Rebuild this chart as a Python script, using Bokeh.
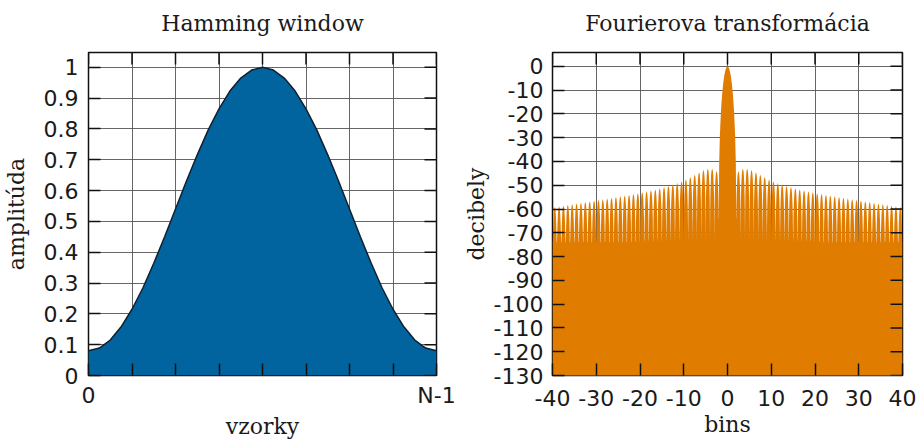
from bokeh.plotting import figure
from bokeh.layouts import row
from bokeh.models import Range1d, FixedTicker, CustomJSTickFormatter, LinearAxis
from bokeh.embed import file_html
from bokeh.resources import INLINE

# ---------------- data: Hamming window (samples 0 .. N-1, N-1 = 32) ----------------
hamming_n = list(range(33))
hamming_w = [0.080, 0.089, 0.115, 0.158, 0.215, 0.284, 0.364, 0.450, 0.540,
             0.630, 0.716, 0.796, 0.865, 0.923, 0.965, 0.991, 1.000,
             0.991, 0.965, 0.923, 0.865, 0.796, 0.716, 0.630, 0.540,
             0.450, 0.364, 0.284, 0.215, 0.158, 0.115, 0.089, 0.080]
hamming_xticks = [0, 4, 8, 12, 16, 20, 24, 28, 32]
hamming_xlabels = ["0", "", "", "", "", "", "", "", "N-1"]
hamming_yticks = [0, 0.1, 0.2, 0.3, 0.4, 0.5, 0.6, 0.7, 0.8, 0.9, 1]
hamming_ylabels = ["0", "0.1", "0.2", "0.3", "0.4", "0.5", "0.6", "0.7", "0.8", "0.9", "1"]

# ---------------- data: Fourier transform magnitude in dB ----------------
mainlobe_bins = [0, 0.25, 0.5, 0.75, 1.0, 1.25, 1.5, 1.75, 1.9]
mainlobe_db = [0, -0.4, -1.8, -4.0, -7.4, -12.2, -18.9, -29.4, -40.7]
first_null_db = -64
# side-lobe peak levels for the lobes centred at bins 2.5, 3.5, ..., 39.5
sidelobe_peak_db = [-44.0, -43.0, -43.0, -43.5, -44.5, -45.5, -46.5, -47.5,
                    -48.3, -49.0, -49.6, -50.2, -50.7, -51.2, -51.7, -52.1,
                    -52.5, -52.9, -53.3, -53.6, -54.0, -54.3, -54.6, -54.9,
                    -55.2, -55.5, -55.8, -56.1, -56.4, -56.7, -57.0, -57.3,
                    -57.6, -57.9, -58.2, -58.5, -58.8, -59.1]
null_db = -74
lobe_profile_pos = [0.03, 0.08, 0.15, 0.25, 0.35, 0.5, 0.65, 0.75, 0.85, 0.92, 0.97]
lobe_profile_db = [-20.0, -12.0, -7.0, -3.0, -1.0, 0.0, -1.0, -3.0, -7.0, -12.0, -20.0]
fft_xticks = [-40, -30, -20, -10, 0, 10, 20, 30, 40]
fft_yticks = [-130, -120, -110, -100, -90, -80, -70, -60, -50, -40, -30, -20, -10, 0]

BLUE = "#02649e"
ORANGE = "#e07c00"
TICK_FONT = "DejaVu Sans"
SERIF = "DejaVu Serif"
TICK_LEN = 12

LOOKUP = "const i = vals.indexOf(tick); return i >= 0 ? labels[i] : '';"
PLAIN = "return tick.toString();"


def style(p, title, xticks, yticks, ylabel_standoff):
    p.outline_line_color = "#111111"
    p.outline_line_width = 1.5
    p.background_fill_color = "white"
    p.border_fill_color = "white"
    for g in p.grid:
        g.grid_line_color = "#555555"
        g.grid_line_width = 1
        g.grid_line_alpha = 0.9
    p.xgrid.ticker = FixedTicker(ticks=xticks)
    p.ygrid.ticker = FixedTicker(ticks=yticks)
    # the chart title, drawn as the label of an above axis so its distance to the frame is exact
    title_axis = LinearAxis(ticker=FixedTicker(ticks=[]), axis_label=title,
                            axis_line_color=None, major_tick_line_color=None,
                            minor_tick_line_color=None, major_label_standoff=0,
                            axis_label_standoff=17)
    p.add_layout(title_axis, "above")
    for ax in list(p.xaxis) + list(p.yaxis):
        ax.axis_line_color = None
        ax.major_tick_in = TICK_LEN
        ax.major_tick_out = 0
        ax.major_tick_line_color = "#111111"
        ax.major_tick_line_width = 1.5
        ax.minor_tick_line_color = None
        ax.major_label_text_font = TICK_FONT
        ax.major_label_text_font_size = "22px"
        ax.major_label_text_color = "#1a1a1a"
        ax.axis_label_text_font = SERIF
        ax.axis_label_text_font_size = "22px"
        ax.axis_label_text_font_style = "normal"
        ax.axis_label_text_color = "#1a1a1a"
    title_axis.major_tick_line_color = None
    bottom = p.below[0]
    left = p.left[0]
    bottom.ticker = FixedTicker(ticks=xticks)
    left.ticker = FixedTicker(ticks=yticks)
    bottom.major_label_standoff = 7
    bottom.axis_label_standoff = 3
    left.major_label_standoff = 10
    left.axis_label_standoff = ylabel_standoff
    # mirrored inward ticks on the top and right frame edges (clipped to the frame)
    top = p.y_range.end
    right = p.x_range.end
    p.scatter(xticks, [top] * len(xticks), marker="dash", angle=1.5707963,
              size=2 * TICK_LEN, line_color="#111111", line_width=1.5)
    p.scatter([right] * len(yticks), yticks, marker="dash",
              size=2 * TICK_LEN, line_color="#111111", line_width=1.5)


# ---------------- left: Hamming window ----------------
p1 = figure(width=460, height=441,
            x_range=Range1d(hamming_n[0], hamming_n[-1]), y_range=Range1d(0, 1.048),
            output_backend="svg", toolbar_location=None,
            min_border_left=87, min_border_right=24, min_border_top=52, min_border_bottom=64,
            x_axis_label="vzorky", y_axis_label="amplitúda")
px = hamming_n + [hamming_n[-1], hamming_n[0]]
py = hamming_w + [0, 0]
p1.patch(px, py, fill_color=BLUE, line_color=None)
p1.line(hamming_n, hamming_w, line_color="#102030", line_width=1.5)
style(p1, "Hamming window", hamming_xticks, hamming_yticks, 12)
p1.below[0].formatter = CustomJSTickFormatter(
    args=dict(vals=hamming_xticks, labels=hamming_xlabels), code=LOOKUP)
p1.left[0].formatter = CustomJSTickFormatter(
    args=dict(vals=hamming_yticks, labels=hamming_ylabels), code=LOOKUP)

# ---------------- right: Fourier transform ----------------
half_x = list(mainlobe_bins) + [2.0]
half_y = list(mainlobe_db) + [first_null_db]
for i, peak in enumerate(sidelobe_peak_db):
    k = 2 + i
    for u, off in zip(lobe_profile_pos, lobe_profile_db):
        half_x.append(k + u)
        half_y.append(max(peak + off, null_db))
    half_x.append(k + 1)
    half_y.append(null_db)
xs = [-x for x in reversed(half_x[1:])] + half_x
ys = list(reversed(half_y[1:])) + half_y
floor = fft_yticks[0] - 10
xs = [xs[0]] + xs + [xs[-1]]
ys = [floor] + ys + [floor]

p2 = figure(width=458, height=441,
            x_range=Range1d(fft_xticks[0], fft_xticks[-1]), y_range=Range1d(fft_yticks[0], 5.8),
            output_backend="svg", toolbar_location=None,
            min_border_left=88, min_border_right=16, min_border_top=52, min_border_bottom=64,
            x_axis_label="bins", y_axis_label="decibely")
p2.patch(xs, ys, fill_color=ORANGE, line_color=None)
style(p2, "Fourierova transformácia", fft_xticks, fft_yticks, 2)
p2.left[0].major_label_standoff = 9
p2.below[0].major_label_standoff = 14
p2.below[0].formatter = CustomJSTickFormatter(code=PLAIN)
p2.left[0].formatter = CustomJSTickFormatter(code=PLAIN)

layout = row(p1, p2, spacing=0)
open("out.html", "w").write(file_html(layout, INLINE))
